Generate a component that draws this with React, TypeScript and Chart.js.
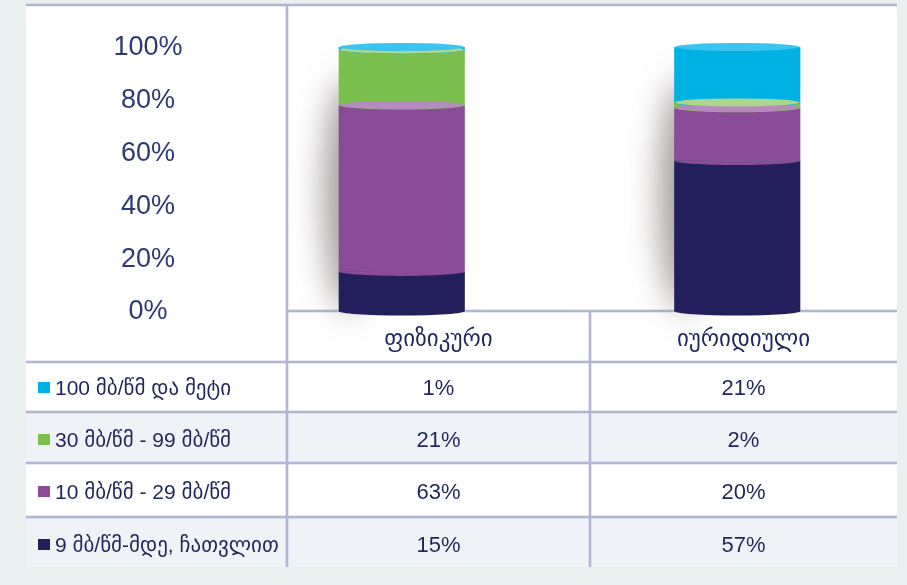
import React, { useEffect, useRef } from "react";
import { Chart, registerables } from "chart.js";

Chart.register(...registerables);

// Connection types (x categories)
const CATEGORIES = ["ფიზიკური", "იურიდიული"];

// Speed groups, listed as they appear in the table (top to bottom)
const SPEED_LABELS = [
  "100 მბ/წმ და მეტი",
  "30 მბ/წმ - 99 მბ/წმ",
  "10 მბ/წმ - 29 მბ/წმ",
  "9 მბ/წმ-მდე, ჩათვლით",
];

// Shares (%) per category
const SPEED_100_PLUS = [1, 21];
const SPEED_30_99 = [21, 2];
const SPEED_10_29 = [63, 20];
const SPEED_UP_TO_9 = [15, 57];

const Y_TICKS = [0, 20, 40, 60, 80, 100];

const COLORS = ["#00b1e4", "#7bc04f", "#8a4b98", "#231f5c"];
const TOP_COLORS = ["#3ac4ef", "#acd58e", "#b58bbf", "#4a4680"];

const TEXT = "#1f265a";
const AXIS_TEXT = "#2c3a74";
const LINE = "#b1b6d2";
const ROW_ALT = "#eff3f7";
const PAGE_BG = "#e9f0ef";

const W = 907;
const H = 585;

// table geometry
const PANEL = { l: 26, r: 897, t: 4, b: 567 };
const COL_X = [287, 590];
const ROW_Y = [311, 362, 412, 463, 517, 567];

const FONT = '"Liberation Sans", "DejaVu Sans", Arial, sans-serif';

const tablePlugin = {
  id: "tableFrame",
  beforeDraw(chart: any) {
    const ctx = chart.ctx as CanvasRenderingContext2D;
    ctx.save();
    ctx.fillStyle = PAGE_BG;
    ctx.fillRect(0, 0, W, H);
    ctx.fillStyle = "#ffffff";
    ctx.fillRect(PANEL.l, PANEL.t, PANEL.r - PANEL.l, PANEL.b - PANEL.t);
    // alternating row shading
    ctx.fillStyle = ROW_ALT;
    ctx.fillRect(PANEL.l, ROW_Y[2], PANEL.r - PANEL.l, ROW_Y[3] - ROW_Y[2]);
    ctx.fillRect(PANEL.l, ROW_Y[4], PANEL.r - PANEL.l, ROW_Y[5] - ROW_Y[4]);

    const line = (x1: number, y1: number, x2: number, y2: number) => {
      ctx.beginPath();
      ctx.moveTo(x1, y1);
      ctx.lineTo(x2, y2);
      ctx.stroke();
    };
    ctx.lineCap = "butt";
    // soft halo then core line
    for (const [w, c] of [
      [4, "rgba(185,190,218,0.35)"],
      [2, LINE],
    ] as [number, string][]) {
      ctx.lineWidth = w;
      ctx.strokeStyle = c;
      line(PANEL.l, PANEL.t + 1, PANEL.r, PANEL.t + 1);
      line(COL_X[0], PANEL.t + 2, COL_X[0], PANEL.b);
      line(COL_X[0], ROW_Y[0], PANEL.r, ROW_Y[0]);
      line(COL_X[1], ROW_Y[0], COL_X[1], PANEL.b);
      for (let i = 1; i < ROW_Y.length - 1; i++) line(PANEL.l, ROW_Y[i], PANEL.r, ROW_Y[i]);
    }
    ctx.restore();
  },
  beforeDatasetsDraw(chart: any) {
    // soft shadow cast to the left of each cylinder
    const ctx = chart.ctx as CanvasRenderingContext2D;
    const metas = chart.getSortedVisibleDatasetMetas();
    const n = chart.data.labels.length;
    for (let i = 0; i < n; i++) {
      let top = Infinity;
      let base = -Infinity;
      let left = 0;
      for (const m of metas) {
        const el = m.data[i];
        const p = el.getProps(["x", "y", "base", "width"], true);
        top = Math.min(top, p.y);
        base = Math.max(base, p.base);
        left = p.x - p.width / 2;
      }
      const h = base - top;
      ctx.save();
      ctx.filter = "blur(16px)";
      ctx.fillStyle = "rgba(95,85,82,0.6)";
      ctx.beginPath();
      ctx.ellipse(left + 10, top + h * 0.56, 24, h * 0.44, 0, 0, Math.PI * 2);
      ctx.fill();
      ctx.restore();
    }
  },
  afterDatasetsDraw(chart: any) {
    const ctx = chart.ctx as CanvasRenderingContext2D;
    const metas = chart.getSortedVisibleDatasetMetas();
    const n = chart.data.labels.length;
    const ry = 4.5;
    for (let i = 0; i < n; i++) {
      // rounded front edge at the bottom of each segment
      metas.forEach((m: any) => {
        const p = m.data[i].getProps(["x", "y", "base", "width"], true);
        const colorIdx = COLORS.length - 1 - m.index;
        ctx.fillStyle = COLORS[colorIdx];
        ctx.beginPath();
        ctx.ellipse(p.x, p.base, p.width / 2, ry, 0, 0, Math.PI);
        ctx.fill();
      });
      // lighter lid on top of each upper segment
      metas.forEach((m: any) => {
        if (m.index === 0) return;
        const p = m.data[i].getProps(["x", "y", "base", "width"], true);
        const colorIdx = COLORS.length - 1 - m.index;
        ctx.fillStyle = TOP_COLORS[colorIdx];
        ctx.beginPath();
        ctx.ellipse(p.x, p.y, p.width / 2 - 1, ry - 0.5, 0, 0, Math.PI * 2);
        ctx.fill();
      });
    }
  },
  afterDraw(chart: any) {
    // percentage scale printed in the left column
    const ctx = chart.ctx as CanvasRenderingContext2D;
    const y = chart.scales.y;
    ctx.save();
    ctx.fillStyle = AXIS_TEXT;
    ctx.font = `27px ${FONT}`;
    ctx.textAlign = "center";
    ctx.textBaseline = "middle";
    for (const v of Y_TICKS) ctx.fillText(`${v}%`, 148, y.getPixelForValue(v) + 1);
    ctx.restore();
  },
};

export default function App() {
  const ref = useRef<HTMLCanvasElement | null>(null);

  useEffect(() => {
    if (!ref.current) return;
    const stackBottomUp = [SPEED_UP_TO_9, SPEED_10_29, SPEED_30_99, SPEED_100_PLUS];
    const labelsBottomUp = [...SPEED_LABELS].reverse();
    const colorsBottomUp = [...COLORS].reverse();
    const chart = new Chart(ref.current, {
      type: "bar",
      data: {
        labels: CATEGORIES,
        datasets: stackBottomUp.map((d, k) => ({
          label: labelsBottomUp[k],
          data: d,
          backgroundColor: colorsBottomUp[k],
          borderWidth: 0,
          barPercentage: 0.376,
          categoryPercentage: 1,
        })),
      },
      options: {
        responsive: false,
        devicePixelRatio: 1,
        animation: false,
        layout: { padding: { left: 234, right: 2, top: 47, bottom: H - 311 } },
        plugins: { legend: { display: false }, tooltip: { enabled: false } },
        scales: {
          x: { display: false, stacked: true },
          y: { display: false, stacked: true, min: 0, max: 100 },
        },
      },
      plugins: [tablePlugin],
    });
    return () => chart.destroy();
  }, []);

  const rows = [SPEED_100_PLUS, SPEED_30_99, SPEED_10_29, SPEED_UP_TO_9];
  const colCenters = [(COL_X[0] + COL_X[1]) / 2, (COL_X[1] + PANEL.r) / 2];
  const textCenters = [388, 440, 492, 545];

  return (
    <div style={{ position: "fixed", left: 0, top: 0, width: W, height: H, fontFamily: FONT }}>
      <canvas ref={ref} width={W} height={H} style={{ position: "absolute", left: 0, top: 0 }} />
      {CATEGORIES.map((c, j) => (
        <div
          key={c}
          style={{
            position: "absolute",
            left: colCenters[j] - 100,
            width: 200,
            top: 338 - 15,
            height: 30,
            lineHeight: "30px",
            textAlign: "center",
            fontSize: 23,
            color: TEXT,
          }}
        >
          {c}
        </div>
      ))}
      {SPEED_LABELS.map((lab, r) => (
        <React.Fragment key={lab}>
          <div
            style={{
              position: "absolute",
              left: 38,
              top: textCenters[r] - 6,
              width: 12,
              height: 11,
              background: COLORS[r],
            }}
          />
          <div
            style={{
              position: "absolute",
              left: 55,
              top: textCenters[r] - 15,
              height: 30,
              lineHeight: "30px",
              whiteSpace: "nowrap",
              fontSize: 21,
              color: TEXT,
            }}
          >
            {lab}
          </div>
          {rows[r].map((v, j) => (
            <div
              key={j}
              style={{
                position: "absolute",
                left: colCenters[j] - 60,
                width: 120,
                top: textCenters[r] - 15,
                height: 30,
                lineHeight: "30px",
                textAlign: "center",
                fontSize: 22,
                color: TEXT,
              }}
            >
              {`${v}%`}
            </div>
          ))}
        </React.Fragment>
      ))}
    </div>
  );
}
